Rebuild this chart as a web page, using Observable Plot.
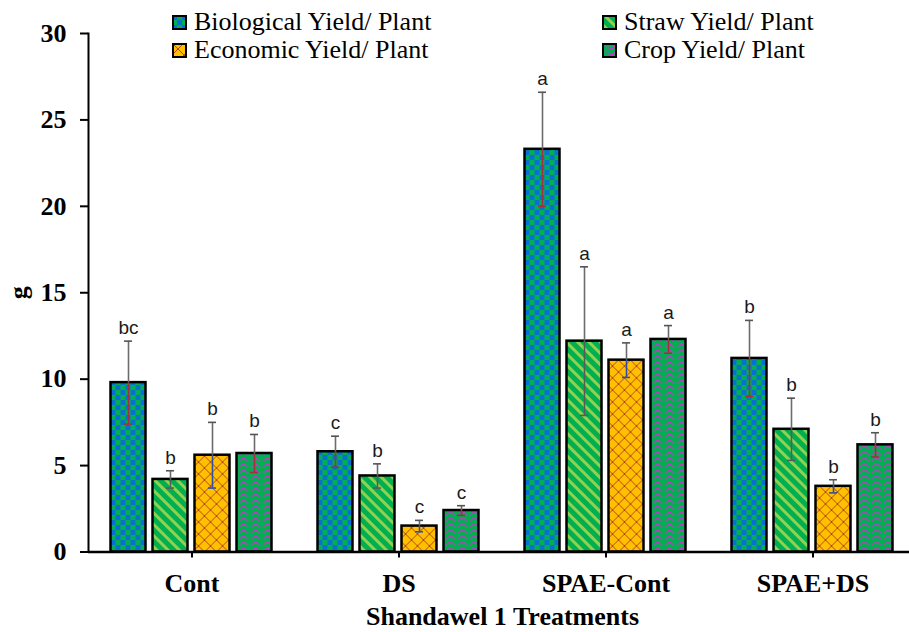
<!DOCTYPE html>
<html><head><meta charset="utf-8">
<script src="https://cdn.jsdelivr.net/npm/d3@7"></script>
<script src="https://cdn.jsdelivr.net/npm/@observablehq/plot@0.6"></script>
<style>
body{margin:0;background:#fff;overflow:hidden}
#wrap{position:relative;width:909px;height:632px}
#legend{position:absolute;left:0;top:0;width:909px;font-family:"Liberation Serif","Times New Roman",serif;font-size:26px;line-height:28px;color:#000}
.item{position:absolute;display:flex;align-items:center;white-space:nowrap}
.item svg{margin-right:7px}
</style></head><body>
<svg width="0" height="0" style="position:absolute"><defs>
  <pattern id="pBio" patternUnits="userSpaceOnUse" width="10" height="10">
    <rect width="10" height="10" fill="#00B050"/>
    <rect x="0" y="0" width="5" height="5" fill="#0A6FD2"/>
    <rect x="5" y="5" width="5" height="5" fill="#0A6FD2"/>
  </pattern>
  <pattern id="pStraw" patternUnits="userSpaceOnUse" width="8" height="8" patternTransform="rotate(-45)">
    <rect width="8" height="8" fill="#00B050"/>
    <rect x="0" y="0" width="3" height="8" fill="#92D050"/>
  </pattern>
  <pattern id="pEcon" patternUnits="userSpaceOnUse" width="12" height="12">
    <rect width="12" height="12" fill="#FFC000"/>
    <path d="M0,0L12,12M12,0L0,12" stroke="#B8451A" stroke-width="1"/>
  </pattern>
  <pattern id="pCrop" patternUnits="userSpaceOnUse" width="12" height="6">
    <rect width="12" height="6" fill="#00B050"/>
    <path d="M0,4Q3,0 6,4T12,4" fill="none" stroke="#D62AD6" stroke-width="1.2"/>
  </pattern>
</defs></svg>
<div id="wrap"><div id="chart"></div><div id="legend"></div></div>
<script>
const groups = ["Cont", "DS", "SPAE-Cont", "SPAE+DS"];
const series = ["Biological Yield/ Plant", "Straw Yield/ Plant", "Economic Yield/ Plant", "Crop Yield/ Plant"];
const biological = [9.8, 5.8, 23.3, 11.2];
const biologicalErr = [2.4, 0.9, 3.3, 2.2];
const biologicalLetters = ["bc", "c", "a", "b"];
const straw = [4.2, 4.4, 12.2, 7.1];
const strawErr = [0.5, 0.7, 4.3, 1.8];
const strawLetters = ["b", "b", "a", "b"];
const economic = [5.6, 1.5, 11.1, 3.8];
const economicErr = [1.9, 0.33, 1.0, 0.38];
const economicLetters = ["b", "c", "a", "b"];
const crop = [5.7, 2.4, 12.3, 6.2];
const cropErr = [1.1, 0.28, 0.8, 0.7];
const cropLetters = ["b", "c", "a", "b"];
const yTicks = [0, 5, 10, 15, 20, 25, 30];

const patterns = ["url(#pBio)", "url(#pStraw)", "url(#pEcon)", "url(#pCrop)"];
const lowColors = ["#A3303C", "#5a5a5a", "#2F4FA8", "#A3303C"];
const values = [biological, straw, economic, crop];
const errs = [biologicalErr, strawErr, economicErr, cropErr];
const letters = [biologicalLetters, strawLetters, economicLetters, cropLetters];

const data = [];
groups.forEach((g, i) => series.forEach((s, j) => data.push({
  group: g, series: s, value: values[j][i], err: errs[j][i], letter: letters[j][i]
})));

const serif = "Liberation Serif, Times New Roman, serif";
const sans = "Liberation Sans, Arial, sans-serif";

const lowMarks = [];
series.forEach((s, j) => {
  const f = d => d.series === s;
  lowMarks.push(Plot.ruleX(data, {filter: f, fx: "group", x: "series", y1: d => d.value - d.err, y2: "value", stroke: lowColors[j], strokeWidth: 1.6}));
  lowMarks.push(Plot.tickY(data, {filter: f, fx: "group", x: "series", y: d => d.value - d.err, stroke: lowColors[j], strokeWidth: 1.6, insetLeft: 13.5, insetRight: 13.5}));
});

const chart = Plot.plot({
  width: 909, height: 632,
  marginTop: 33, marginBottom: 80.5, marginLeft: 87.5, marginRight: -8,
  style: {background: "#fff"},
  fx: {domain: groups, padding: 0},
  x: {domain: series, axis: null, paddingInner: 0.163, paddingOuter: 0.494},
  y: {domain: [0, 30]},
  color: {domain: series, range: patterns},
  marks: [
    Plot.barY(data, {fx: "group", x: "series", y: "value", fill: "series", stroke: "#000", strokeWidth: 2.5}),
    Plot.ruleX(data, {fx: "group", x: "series", y1: "value", y2: d => d.value + d.err, stroke: "#6b6b6b", strokeWidth: 1.6}),
    Plot.tickY(data, {fx: "group", x: "series", y: d => d.value + d.err, stroke: "#555", strokeWidth: 1.6, insetLeft: 13.5, insetRight: 13.5}),
    ...lowMarks,
    Plot.text(data, {fx: "group", x: "series", y: d => d.value + d.err, text: "letter", lineAnchor: "bottom", dy: -7, fontSize: 19, fontFamily: sans, fill: "#1a1a1a"}),
    Plot.ruleY([0], {stroke: "#000", strokeWidth: 2.5}),
    Plot.frame({anchor: "left", facetAnchor: "left", stroke: "#000", strokeWidth: 2}),
    Plot.axisY({ticks: yTicks, tickFormat: d3.format("d"), tickSize: 8, tickPadding: 14, strokeWidth: 2,
      fontSize: 26, fontWeight: "bold", fontFamily: serif, fill: "#000",
      label: "g", labelAnchor: "center", labelArrow: false, labelOffset: 80}),
    Plot.axisFx({anchor: "bottom", tickSize: 6, tickPadding: 16, strokeWidth: 2,
      fontSize: 26, fontWeight: "bold", fontFamily: serif, fill: "#000",
      label: "Shandawel 1 Treatments", labelAnchor: "center", labelArrow: false, labelOffset: 73})
  ]
});
document.getElementById("chart").appendChild(chart);

const legendPos = [[172, 8], [602, 8], [172, 36], [602, 36]];
const legend = document.getElementById("legend");
series.forEach((s, j) => {
  const div = document.createElement("div");
  div.className = "item";
  div.style.left = legendPos[j][0] + "px";
  div.style.top = legendPos[j][1] + "px";
  div.innerHTML = `<svg width="15" height="15"><rect x="1" y="1" width="13" height="13" fill="${patterns[j]}" stroke="#000" stroke-width="2"/></svg><span>${s}</span>`;
  legend.appendChild(div);
});
</script>
</body></html>
